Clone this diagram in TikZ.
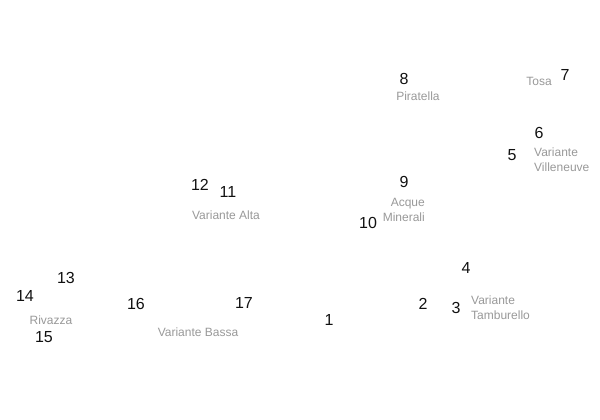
\documentclass[tikz,border=0pt]{standalone}
\usepackage{fontspec}
\setmainfont{Liberation Sans}
\definecolor{lbl}{HTML}{999999}
\definecolor{num}{HTML}{111111}
\begin{document}
\begin{tikzpicture}[x=1pt,y=-1pt,
  numtxt/.style={inner sep=0pt,text=num,font=\fontsize{16}{18}\selectfont},
  lbltxt/.style={inner sep=0pt,text=lbl,font=\fontsize{12}{15}\selectfont,align=left}]
\useasboundingbox[fill=white] (0,0) rectangle (600,420);
\node[numtxt] (n8) at (404,79) {8};
\node[lbltxt] (piratella) at (418,96) {Piratella};
\node[lbltxt] (tosa) at (539,81) {Tosa};
\node[numtxt] (n7) at (565,75) {7};
\node[numtxt] (n6) at (539,133) {6};
\node[lbltxt,anchor=west] (villeneuve) at (534,159.5) {Variante\\Villeneuve};
\node[numtxt] (n5) at (512,155) {5};
\node[numtxt] (n9) at (404,182) {9};
\node[lbltxt,anchor=east,align=right] (acque) at (425,209.5) {Acque\\Minerali};
\node[numtxt] (n10) at (368,223) {10};
\node[numtxt] (n12) at (200,185) {12};
\node[numtxt] (n11) at (228,192) {11};
\node[lbltxt] (alta) at (226,215) {Variante Alta};
\node[numtxt] (n13) at (66,278) {13};
\node[numtxt] (n14) at (25,296) {14};
\node[lbltxt] (rivazza) at (51,320) {Rivazza};
\node[numtxt] (n15) at (44,337) {15};
\node[numtxt] (n16) at (136,304) {16};
\node[lbltxt] (bassa) at (198,332) {Variante Bassa};
\node[numtxt] (n17) at (244,303) {17};
\node[numtxt] (n1) at (329,320) {1};
\node[numtxt] (n2) at (423,304) {2};
\node[numtxt] (n3) at (456,308) {3};
\node[lbltxt,anchor=west] (tamburello) at (471,307.5) {Variante\\Tamburello};
\node[numtxt] (n4) at (466,268) {4};
\end{tikzpicture}
\end{document}
